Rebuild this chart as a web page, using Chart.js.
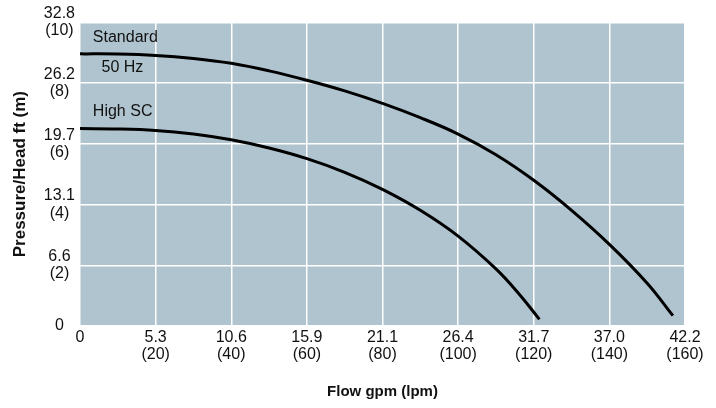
<!DOCTYPE html>
<html>
<head>
<meta charset="utf-8">
<script src="https://cdn.jsdelivr.net/npm/chart.js@4/dist/chart.umd.min.js"></script>
<style>
  body { margin: 0; background: #fff; }
  #wrap { width: 716px; height: 408px; position: relative; }
</style>
</head>
<body>
<div id="wrap"><canvas id="pumpChart"></canvas></div>
<script>
// flow in lpm, head in m
const standardFlow = [0, 10, 20, 30, 40, 50, 60, 70, 80, 90, 100, 110, 120, 130, 140, 150, 156.8];
const standardHead = [8.96, 8.955, 8.91, 8.81, 8.65, 8.40, 8.09, 7.74, 7.33, 6.86, 6.32, 5.64, 4.80, 3.81, 2.69, 1.41, 0.34];

const highScFlow = [0, 10, 20, 30, 40, 50, 60, 70, 80, 90, 100, 110, 116, 121.5];
const highScHead = [6.50, 6.49, 6.44, 6.32, 6.13, 5.86, 5.51, 5.06, 4.50, 3.81, 2.96, 1.88, 1.07, 0.22];

// tick labels
const lpmTicks = [0, 20, 40, 60, 80, 100, 120, 140, 160];
const gpmLabels = ['0', '5.3', '10.6', '15.9', '21.1', '26.4', '31.7', '37.0', '42.2'];
const mTicks = [0, 2, 4, 6, 8, 10];
const ftLabels = ['0', '6.6', '13.1', '19.7', '26.2', '32.8'];

// curve names written inside the plot
const noteText = ['Standard', '50 Hz', 'High SC'];
const noteFlow = [3.4, 5.7, 3.4];
const noteHead = [9.48, 8.52, 7.06];

const toXY = (xs, ys) => xs.map((x, i) => ({ x: x, y: ys[i] }));

const plotBg = {
    id: 'plotBg',
    beforeDraw(chart) {
        const a = chart.chartArea;
        const ctx = chart.ctx;
        ctx.save();
        ctx.fillStyle = '#afc4ce';
        ctx.fillRect(a.left, a.top, a.right - a.left, a.bottom - a.top);
        ctx.restore();
    }
};

const notes = {
    id: 'notes',
    afterDatasetsDraw(chart) {
        const ctx = chart.ctx;
        const xs = chart.scales.x, ys = chart.scales.y;
        ctx.save();
        ctx.font = '16px "Liberation Sans", Arial, sans-serif';
        ctx.fillStyle = '#111';
        ctx.textAlign = 'left';
        ctx.textBaseline = 'middle';
        noteText.forEach((t, i) => {
            ctx.fillText(t, xs.getPixelForValue(noteFlow[i]), ys.getPixelForValue(noteHead[i]));
        });
        ctx.restore();
    }
};

const tickFont = { family: '"Liberation Sans", Arial, sans-serif', size: 16, lineHeight: 1.08 };

new Chart(document.getElementById('pumpChart'), {
    type: 'line',
    data: {
        datasets: [
            {
                label: 'Standard 50 Hz',
                data: toXY(standardFlow, standardHead),
                borderColor: '#000',
                borderWidth: 3,
                pointRadius: 0,
                tension: 0.4,
                fill: false
            },
            {
                label: 'High SC',
                data: toXY(highScFlow, highScHead),
                borderColor: '#000',
                borderWidth: 3,
                pointRadius: 0,
                tension: 0.4,
                fill: false
            }
        ]
    },
    options: {
        responsive: true,
        maintainAspectRatio: false,
        animation: false,
        layout: { padding: { top: 21, right: 31, bottom: 0, left: 0 } },
        plugins: {
            legend: { display: false },
            tooltip: { enabled: false }
        },
        scales: {
            x: {
                type: 'linear',
                min: 0,
                max: 160,
                afterFit: s => { s.height = 82; },
                afterBuildTicks: s => { s.ticks = lpmTicks.map(v => ({ value: v })); },
                border: { display: false },
                grid: { color: '#ffffff', lineWidth: 1.5, drawTicks: false },
                ticks: {
                    padding: 3,
                    color: '#111',
                    font: tickFont,
                    maxRotation: 0,
                    callback: v => {
                        const i = lpmTicks.indexOf(v);
                        return i === 0 ? [gpmLabels[0]] : [gpmLabels[i], '(' + v + ')'];
                    }
                },
                title: {
                    display: true,
                    text: 'Flow gpm (lpm)',
                    color: '#111',
                    font: { family: '"Liberation Sans Narrow", "Liberation Sans", Arial, sans-serif', size: 15, weight: 'bold' },
                    padding: { top: 0, bottom: 7 }
                }
            },
            y: {
                type: 'linear',
                min: 0,
                max: 10,
                afterFit: s => { s.width = 80; },
                afterBuildTicks: s => { s.ticks = mTicks.map(v => ({ value: v })); },
                border: { display: false },
                grid: { color: '#ffffff', lineWidth: 1.5, drawTicks: false },
                ticks: {
                    padding: 5,
                    color: '#111',
                    font: tickFont,
                    crossAlign: 'center',
                    callback: v => {
                        const i = mTicks.indexOf(v);
                        return i === 0 ? [ftLabels[0]] : [ftLabels[i], '(' + v + ')'];
                    }
                },
                title: {
                    display: true,
                    text: 'Pressure/Head ft (m)',
                    color: '#111',
                    font: { family: '"Liberation Sans", Arial, sans-serif', size: 17, weight: 'bold' },
                    padding: { top: 10, bottom: 0 }
                }
            }
        }
    },
    plugins: [plotBg, notes]
});
</script>
</body>
</html>
